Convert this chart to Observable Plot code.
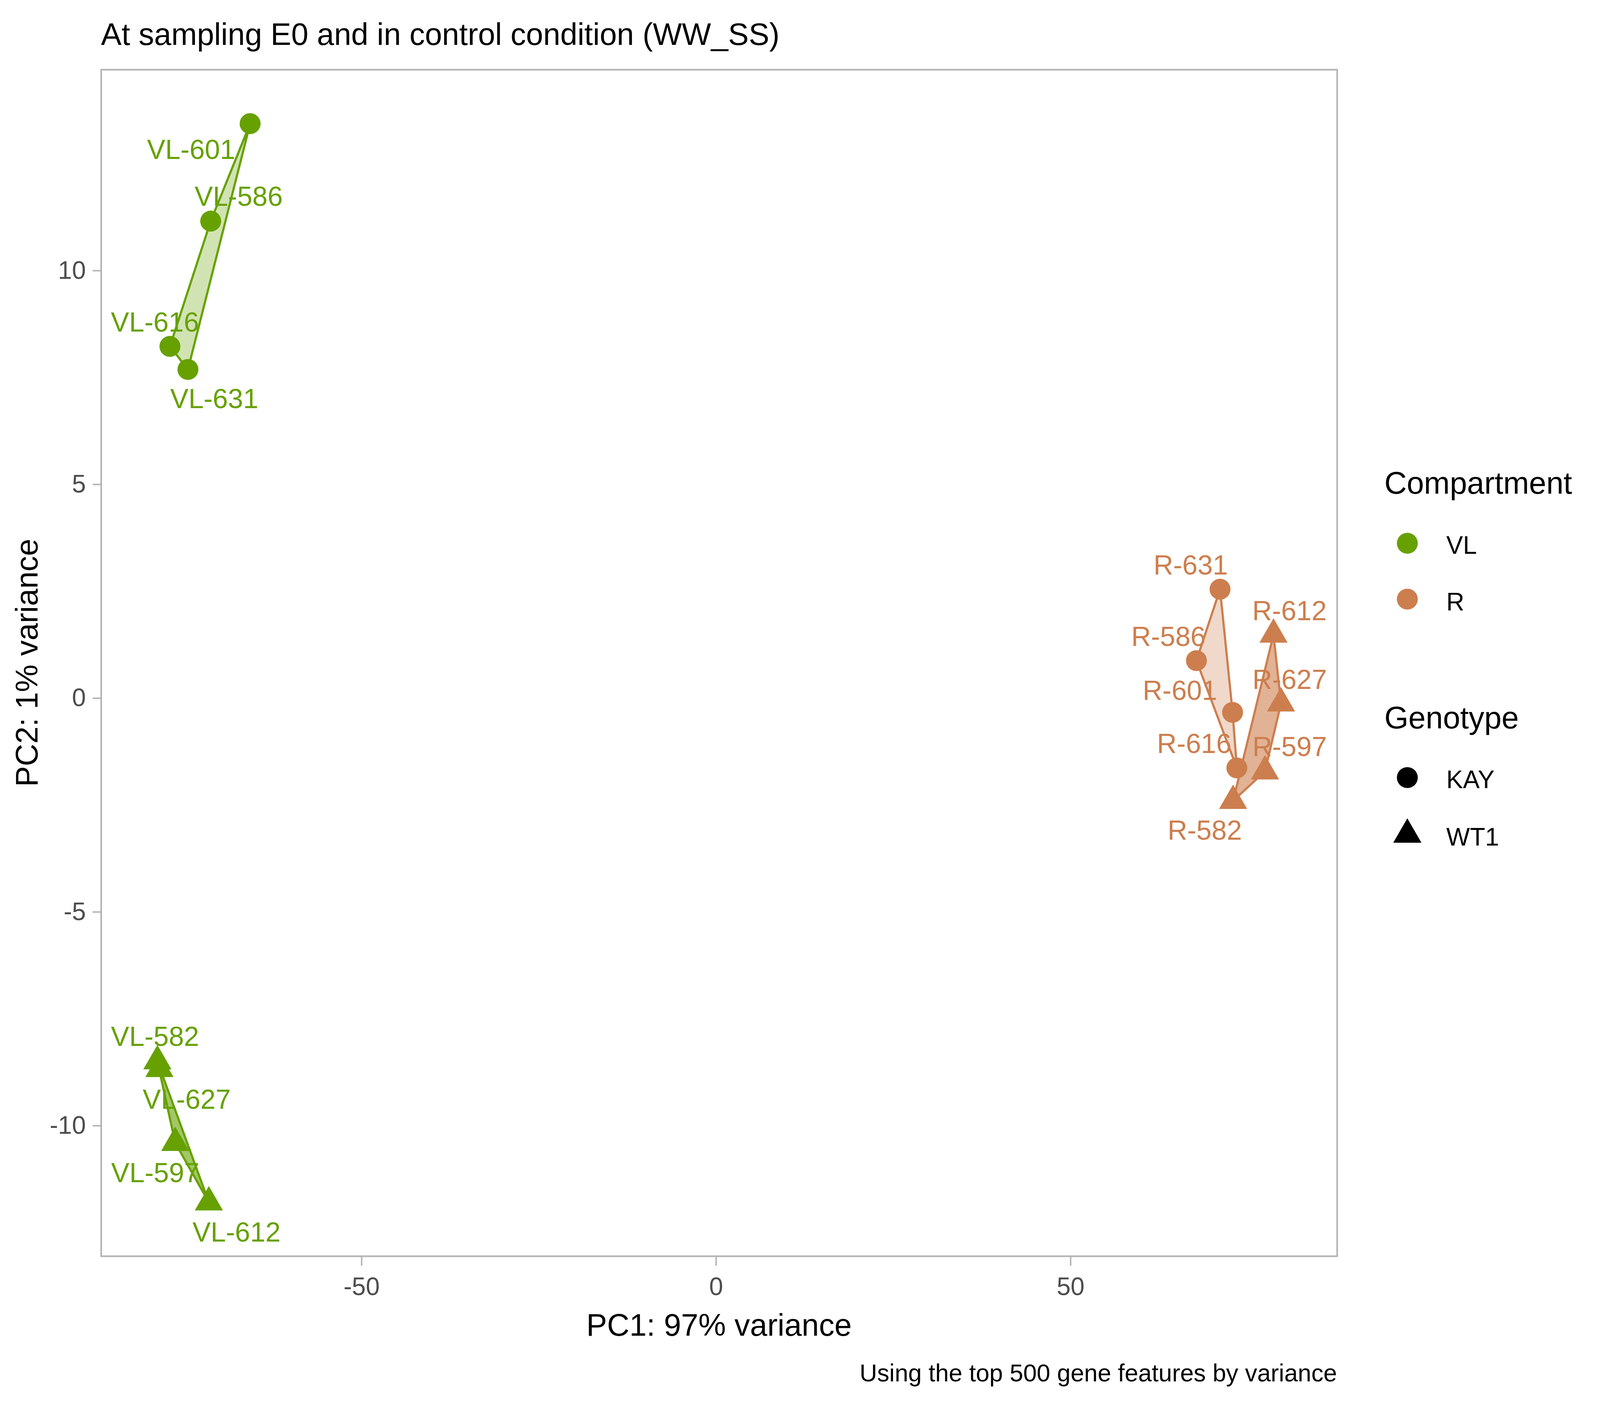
<!DOCTYPE html>
<html>
<head>
<meta charset="utf-8">
<script src="https://cdn.jsdelivr.net/npm/d3@7"></script>
<script src="https://cdn.jsdelivr.net/npm/@observablehq/plot@0.6"></script>
<style>
  html, body { margin: 0; padding: 0; background: #ffffff; overflow: hidden; }
  #chart svg { display: block; }
</style>
</head>
<body>
<div id="chart"></div>
<script>
// ---------------- data ----------------
const compartments = ["VL", "R"];
const genotypes = ["KAY", "WT1"];
const sampleNames = ["VL-601", "VL-586", "VL-616", "VL-631", "VL-582", "VL-627", "VL-597", "VL-612",
                     "R-631", "R-586", "R-601", "R-616", "R-612", "R-627", "R-597", "R-582"];
const sampleCompartment = ["VL", "VL", "VL", "VL", "VL", "VL", "VL", "VL",
                           "R", "R", "R", "R", "R", "R", "R", "R"];
const sampleGenotype = ["KAY", "KAY", "KAY", "KAY", "WT1", "WT1", "WT1", "WT1",
                        "KAY", "KAY", "KAY", "KAY", "WT1", "WT1", "WT1", "WT1"];
const pc1 = [-65.73, -71.29, -77.04, -74.50, -78.81, -78.52, -76.29, -71.55,
             71.07, 67.74, 72.84, 73.44, 78.61, 79.67, 77.41, 72.91];
const pc2 = [13.44, 11.16, 8.23, 7.69, -8.49, -8.67, -10.40, -11.79,
             2.55, 0.88, -0.33, -1.63, 1.49, -0.12, -1.71, -2.40];
const xTicks = [-50, 0, 50];
const yTicks = [-10, -5, 0, 5, 10];
const titleText = "At sampling E0 and in control condition (WW_SS)";
const xLabel = "PC1: 97% variance";
const yLabel = "PC2: 1% variance";
const captionText = "Using the top 500 gene features by variance";
const compartmentTitle = "Compartment";
const genotypeTitle = "Genotype";

// ---------------- styles / layout (in 4800x3600 design units) ----------------
const compartmentColors = ["#66A100", "#CD7E4E"];
const genotypeSymbols = ["circle", "triangle"];
const hullOpacity = {KAY: 0.3, WT1: 0.6};
// repelled label placement: [text centre dx, baseline dy] from the point
const labelOffsets = {
  "VL-601": [-177, 90], "VL-586": [84, -39], "VL-616": [-45, -38], "VL-631": [79, 99],
  "VL-582": [-7, -39], "VL-627": [82, 102], "VL-597": [-60, 101], "VL-612": [83, 101],
  "R-631": [-88, -38], "R-586": [-84, -37], "R-601": [-158, -32], "R-616": [-128, -38],
  "R-612": [48, -37], "R-627": [26, -37], "R-597": [74, -39], "R-582": [-85, 99]
};
const FONT = "'Liberation Sans', Arial, Helvetica, sans-serif";
const DW = 4800, DH = 3600;

// fit the design to the actual viewport
const VW = document.documentElement.clientWidth || window.innerWidth || DW;
const VH = document.documentElement.clientHeight || window.innerHeight || DH;
const sx = VW / DW, sy = VH / DH, sr = Math.sqrt(sx * sy);
const X = v => v * sx, Y = v => v * sy, F = v => v * sx;

const M = {left: X(303), right: X(789), top: Y(178), bottom: Y(384)};
const R = 29 * sr;

// ---------------- build table ----------------
const samples = sampleNames.map((name, i) => ({
  name, comp: sampleCompartment[i], geno: sampleGenotype[i], x: pc1[i], y: pc2[i]
}));
const colorOf = c => compartmentColors[compartments.indexOf(c)];
function expand(ext, f = 0.05) { const d = (ext[1] - ext[0]) * f; return [ext[0] - d, ext[1] + d]; }
const xDomain = expand(d3.extent(samples, d => d.x));
const yDomain = expand(d3.extent(samples, d => d.y));

// convex hulls per compartment x genotype
const hullMarks = [];
for (const c of compartments) {
  for (const g of genotypes) {
    const pts = samples.filter(d => d.comp === c && d.geno === g).map(d => [d.x, d.y]);
    const hull = d3.polygonHull(pts);
    if (!hull) continue;
    hullMarks.push(Plot.line(hull.concat([hull[0]]), {
      x: d => d[0], y: d => d[1],
      stroke: colorOf(c), strokeWidth: 6 * sr, strokeLinejoin: "round",
      fill: colorOf(c), fillOpacity: hullOpacity[g], curve: "linear"
    }));
  }
}

const labelMarks = samples.map(d => Plot.text([d], {
  x: "x", y: "y", text: "name",
  fill: colorOf(d.comp), fontSize: F(82), fontFamily: FONT,
  textAnchor: "middle", lineAnchor: "bottom",
  dx: X(labelOffsets[d.name][0]), dy: Y(labelOffsets[d.name][1])
}));

const tickFont = F(75);
const plot = Plot.plot({
  width: VW, height: VH,
  marginLeft: M.left, marginRight: M.right, marginTop: M.top, marginBottom: M.bottom,
  style: {fontFamily: FONT, background: "#ffffff"},
  x: {domain: xDomain},
  y: {domain: yDomain},
  color: {domain: compartments, range: compartmentColors},
  symbol: {domain: genotypes, range: genotypeSymbols},
  marks: [
    ...hullMarks,
    Plot.dot(samples, {x: "x", y: "y", fill: "comp", symbol: "geno", r: R, stroke: "none"}),
    ...labelMarks,
    Plot.frame({stroke: "#B3B3B3", strokeWidth: 4.5 * sr}),
    Plot.axisX({ticks: xTicks, tickSize: Y(25),
                tickPadding: Y(3315 - 3241) - 0.71 * tickFont, fontSize: tickFont,
                stroke: "#B3B3B3", strokeWidth: 4 * sr, fill: "#4D4D4D", label: null,
                tickFormat: d => String(d)}),
    Plot.axisY({ticks: yTicks, tickSize: X(25), tickPadding: X(21), fontSize: tickFont,
                stroke: "#B3B3B3", strokeWidth: 4 * sr, fill: "#4D4D4D", label: null,
                tickFormat: d => String(d)})
  ]
});
document.getElementById("chart").appendChild(plot);

// ---------------- titles, caption, legend ----------------
const svg = d3.select(plot);
const panelCx = (M.left + (VW - M.right)) / 2;
const panelCy = (M.top + (VH - M.bottom)) / 2;
function addText(parent, str, x, y, size, anchor) {
  return parent.append("text").text(str)
    .attr("x", x).attr("y", y).attr("text-anchor", anchor)
    .attr("font-size", size).attr("font-family", FONT).attr("fill", "#000000");
}
addText(svg, titleText, M.left, Y(115), F(92.5), "start");
addText(svg, xLabel, panelCx, Y(3420), F(93), "middle");
svg.append("text").text(yLabel)
  .attr("transform", `translate(${X(113)},${panelCy}) rotate(-90)`)
  .attr("text-anchor", "middle")
  .attr("font-size", F(93)).attr("font-family", FONT).attr("fill", "#000000");
addText(svg, captionText, VW - M.right, Y(3537), F(73), "end");

const legend = svg.append("g");
const keyX = X(4222), textX = X(4339), titleX = X(4153);
addText(legend, compartmentTitle, titleX, Y(1264), F(93), "start");
const compKeyY = [1391, 1534], compTextY = [1418, 1563];
compartments.forEach((c, i) => {
  legend.append("circle").attr("cx", keyX).attr("cy", Y(compKeyY[i])).attr("r", R)
    .attr("fill", compartmentColors[i]);
  addText(legend, c, textX, Y(compTextY[i]), F(75), "start");
});
addText(legend, genotypeTitle, titleX, Y(1865), F(93), "start");
const genoKeyY = [1991, 2137], genoTextY = [2018, 2165];
const symbolMap = {circle: d3.symbolCircle, triangle: d3.symbolTriangle};
genotypes.forEach((g, i) => {
  legend.append("path")
    .attr("d", d3.symbol(symbolMap[genotypeSymbols[i]], R * R * Math.PI)())
    .attr("transform", `translate(${keyX},${Y(genoKeyY[i])})`)
    .attr("fill", "#000000");
  addText(legend, g, textX, Y(genoTextY[i]), F(75), "start");
});
</script>
</body>
</html>
